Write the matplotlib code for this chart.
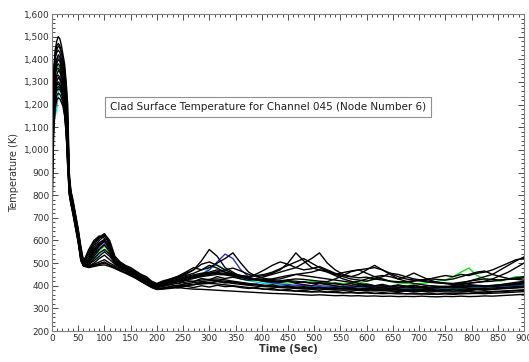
"""Clad surface temperature traces for channel 045, node 6."""

import matplotlib
matplotlib.use("Agg")
import matplotlib.pyplot as plt
from matplotlib.ticker import FuncFormatter, MultipleLocator

# shared time grid (s): dense during the blowdown peak, coarser later
time_s = [0, 3, 6, 9, 12, 15, 18, 21, 24, 27, 30, 33, 36, 40, 45, 50, 55, 60,
          70, 80, 90, 100, 110, 120, 130, 140, 150, 160, 170, 180, 190, 200,
          210, 225, 240, 255, 270, 285, 300, 315, 330, 345, 360, 375, 390, 405,
          420, 435, 450, 465, 480, 495, 510, 525, 540, 555, 570, 585, 600, 615,
          630, 645, 660, 675, 690, 705, 720, 735, 750, 765, 780, 795, 810, 825,
          840, 855, 870, 885, 900]

# black traces (K)
black_runs = [
    [1100, 1350, 1440, 1480, 1500, 1490, 1460, 1420, 1380, 1300, 1200, 900, 820, 780, 715, 650, 575, 510,
     540, 590, 615, 630, 600, 530, 505, 490, 480, 465, 450, 440, 420, 410,
     420, 430, 440, 455, 470, 510, 560, 530, 480, 460, 440, 430, 425, 430, 420, 415, 425, 410, 405, 400,
     410, 405, 400, 395, 392, 398, 395, 390, 392, 388, 390, 395, 392, 390, 388, 392, 395, 398, 400, 405,
     402, 400, 398, 402, 405, 410, 412],
    [1000, 1300, 1400, 1440, 1460, 1450, 1430, 1390, 1340, 1260, 1120, 860, 805, 765, 700, 635, 555, 505,
     560, 600, 620, 610, 560, 510, 500, 485, 470, 460, 445, 430, 415, 405,
     415, 425, 435, 445, 455, 470, 480, 500, 520, 545, 500, 460, 440, 445, 455, 470, 500, 545, 510, 480,
     470, 460, 445, 430, 420, 410, 405, 400, 398, 395, 400, 398, 395, 392, 390, 395, 392, 398, 395, 400,
     398, 396, 400, 405, 410, 415, 420],
    [950, 1250, 1360, 1400, 1420, 1410, 1380, 1350, 1300, 1220, 1050, 840, 795, 750, 690, 625, 540, 500,
     520, 570, 600, 620, 590, 520, 495, 482, 468, 455, 440, 428, 412, 402,
     410, 420, 430, 440, 448, 455, 460, 470, 460, 450, 440, 435, 430, 440, 450, 460, 470, 480, 500, 520,
     545, 500, 470, 450, 440, 450, 470, 490, 470, 450, 430, 420, 410, 405, 400, 398, 395, 400, 405, 410,
     415, 420, 430, 445, 460, 480, 500],
    [900, 1200, 1320, 1380, 1400, 1390, 1360, 1320, 1270, 1180, 1000, 830, 790, 745, 680, 615, 535, 498,
     510, 550, 580, 600, 570, 510, 492, 478, 465, 452, 438, 425, 410, 400,
     405, 415, 425, 432, 440, 445, 450, 455, 450, 445, 440, 432, 428, 425, 430, 438, 445, 450, 445, 440,
     435, 430, 425, 420, 415, 420, 430, 440, 445, 440, 430, 440, 456, 440, 425, 415, 410, 405, 410, 420,
     430, 440, 450, 470, 490, 510, 527],
    [1050, 1280, 1350, 1370, 1380, 1370, 1345, 1300, 1250, 1170, 1080, 870, 805, 760, 695, 630, 550, 502,
     500, 530, 560, 580, 550, 505, 488, 475, 462, 450, 436, 422, 408, 398,
     402, 410, 418, 425, 432, 440, 445, 450, 448, 442, 436, 430, 425, 420, 416, 418, 422, 420, 415, 412,
     410, 412, 408, 405, 402, 404, 400, 398, 400, 396, 394, 396, 393, 395, 392, 394, 396, 394, 392, 395,
     398, 396, 398, 400, 403, 405, 408],
    [800, 1150, 1280, 1330, 1350, 1345, 1320, 1280, 1220, 1130, 980, 820, 780, 735, 672, 608, 528, 495,
     495, 510, 530, 550, 530, 500, 485, 472, 458, 446, 432, 418, 404, 394,
     398, 405, 410, 416, 420, 425, 428, 430, 426, 420, 415, 410, 405, 402, 398, 396, 394, 392, 390, 388,
     390, 388, 385, 386, 384, 382, 384, 382, 380, 382, 380, 378, 380, 382, 380, 378, 380, 382, 380, 383,
     385, 383, 385, 388, 390, 392, 395],
    [750, 1100, 1250, 1300, 1320, 1310, 1290, 1250, 1190, 1100, 950, 815, 775, 728, 665, 600, 520, 492,
     488, 495, 505, 515, 500, 488, 476, 464, 450, 438, 424, 410, 396, 386,
     388, 390, 392, 388, 385, 384, 382, 380, 378, 376, 374, 372, 370, 368, 366, 365, 364, 362, 360, 358,
     360, 358, 356, 357, 355, 356, 354, 355, 353, 354, 352, 353, 352, 354, 352, 351, 353, 352, 354, 352,
     353, 355, 354, 356, 358, 360, 362],
    [850, 1180, 1260, 1290, 1300, 1290, 1270, 1240, 1180, 1090, 930, 805, 768, 722, 660, 598, 518, 490,
     485, 490, 498, 505, 492, 482, 470, 458, 446, 434, 420, 406, 393, 384,
     386, 392, 398, 402, 405, 408, 410, 408, 404, 400, 396, 392, 388, 385, 382, 380, 378, 376, 374, 372,
     373, 371, 370, 368, 369, 367, 368, 366, 365, 366, 364, 365, 363, 364, 362, 363, 364, 362, 364, 365,
     366, 365, 367, 368, 370, 372, 374],
    [1150, 1220, 1250, 1270, 1280, 1275, 1260, 1230, 1190, 1120, 1000, 850, 790, 745, 685, 620, 540, 498,
     520, 560, 590, 605, 575, 515, 496, 480, 467, 453, 440, 427, 413, 403,
     412, 425, 438, 450, 470, 495, 505, 490, 470, 455, 445, 440, 445, 450, 460, 475, 490, 505, 520, 500,
     480, 465, 450, 440, 430, 425, 420, 430, 440, 455, 450, 440, 430, 425, 420, 415, 412, 410, 415, 420,
     425, 430, 428, 425, 430, 435, 440],
    [700, 1050, 1200, 1240, 1250, 1245, 1230, 1205, 1160, 1080, 920, 800, 760, 715, 655, 592, 512, 488,
     480, 485, 490, 492, 485, 476, 465, 455, 444, 432, 418, 405, 392, 383,
     385, 388, 394, 400, 405, 410, 414, 418, 415, 410, 406, 402, 398, 396, 394, 392, 390, 388, 386, 384,
     385, 383, 382, 380, 381, 379, 378, 377, 378, 376, 375, 376, 374, 375, 373, 374, 373, 372, 373, 374,
     372, 373, 375, 376, 378, 380, 382],
    [1050, 1320, 1410, 1430, 1440, 1430, 1400, 1370, 1320, 1240, 1100, 880, 810, 768, 705, 640, 560, 505,
     530, 580, 610, 625, 580, 515, 498, 484, 470, 457, 443, 430, 414, 404,
     408, 418, 428, 436, 444, 450, 456, 462, 470, 478, 465, 450, 440, 432, 428, 430, 440, 450, 455, 460,
     470, 465, 450, 458, 465, 470, 475, 480, 470, 455, 440, 430, 425, 420, 415, 412, 410, 408, 410, 412,
     415, 418, 420, 425, 428, 430, 435],
    [1000, 1100, 1180, 1220, 1230, 1225, 1210, 1190, 1150, 1070, 940, 810, 765, 718, 652, 590, 510, 486,
     482, 488, 494, 500, 490, 480, 468, 458, 446, 436, 422, 408, 395, 386,
     388, 395, 402, 408, 414, 418, 422, 424, 420, 416, 412, 408, 404, 400, 398, 396, 395, 393, 392, 390,
     392, 390, 388, 390, 388, 386, 388, 386, 385, 387, 385, 384, 386, 384, 383, 385, 384, 386, 385, 387,
     389, 388, 390, 392, 394, 396, 398],
    [1200, 1300, 1340, 1355, 1360, 1350, 1320, 1290, 1240, 1150, 1020, 845, 792, 750, 688, 622, 538, 497,
     505, 540, 575, 595, 565, 508, 490, 476, 463, 450, 437, 424, 410, 400,
     404, 412, 420, 428, 436, 444, 452, 458, 454, 448, 440, 434, 428, 424, 420, 422, 426, 430, 428, 424,
     420, 418, 430, 445, 462, 470, 455, 440, 430, 420, 415, 418, 422, 426, 430, 428, 425, 430, 440, 450,
     460, 465, 450, 440, 432, 428, 425],
    [1100, 1200, 1260, 1285, 1290, 1285, 1270, 1240, 1200, 1130, 1020, 860, 800, 755, 690, 625, 545, 500,
     490, 520, 545, 560, 540, 500, 484, 470, 458, 446, 432, 418, 402, 392,
     396, 404, 398, 410, 404, 416, 410, 420, 412, 418, 410, 404, 408, 400, 404, 396, 400, 392, 396, 390,
     394, 388, 392, 386, 390, 384, 388, 382, 386, 380, 384, 380, 382, 378, 382, 378, 380, 376, 380, 378,
     382, 380, 384, 386, 388, 390, 392],
    [950, 1220, 1300, 1325, 1330, 1320, 1300, 1270, 1230, 1160, 1040, 850, 795, 750, 686, 620, 538, 497,
     510, 555, 585, 600, 560, 508, 492, 478, 464, 452, 438, 425, 411, 401,
     406, 416, 410, 424, 418, 432, 426, 440, 432, 438, 430, 424, 428, 420, 424, 416, 420, 412, 418, 410,
     414, 406, 412, 404, 410, 402, 408, 400, 406, 398, 404, 398, 402, 396, 400, 396, 398, 394, 398, 396,
     400, 398, 402, 404, 406, 410, 414],
    [1000, 1150, 1230, 1260, 1270, 1265, 1250, 1220, 1170, 1090, 960, 820, 778, 732, 668, 604, 524, 492,
     486, 500, 520, 535, 515, 495, 480, 466, 452, 440, 426, 412, 398, 388,
     390, 396, 390, 398, 392, 400, 394, 402, 396, 398, 392, 388, 392, 384, 388, 380, 384, 376, 380, 374,
     378, 372, 376, 370, 374, 368, 372, 366, 370, 366, 370, 364, 368, 364, 368, 362, 366, 364, 368, 366,
     370, 368, 372, 374, 376, 378, 380],
    [1080, 1330, 1420, 1460, 1470, 1460, 1430, 1400, 1360, 1280, 1150, 880, 815, 770, 708, 645, 565, 508,
     550, 595, 612, 628, 585, 525, 502, 488, 474, 461, 447, 434, 418, 406,
     414, 428, 442, 460, 480, 470, 490, 478, 460, 450, 445, 440, 452, 470, 490, 505, 495, 480, 470, 475,
     485, 470, 455, 445, 440, 435, 438, 430, 425, 420, 418, 415, 420, 425, 430, 438, 445, 440, 450, 445,
     455, 460, 470, 485, 500, 515, 520],
]

green_run = [950, 1230, 1330, 1360, 1370, 1360, 1330, 1290, 1230, 1140, 1000, 830, 785, 740, 678, 615, 532, 497,
             500, 530, 555, 575, 548, 505, 488, 475, 462, 450, 436, 423, 409, 399,
             405, 415, 425, 432, 440, 448, 455, 460, 452, 445, 438, 432, 425, 420, 418, 415, 412, 414, 416, 418,
             416, 414, 412, 410, 411, 412, 420, 428, 430, 418, 412, 410, 408, 410, 415, 420, 425, 440, 460, 478,
             445, 430, 425, 420, 430, 440, 438]

blue_run = [980, 1260, 1370, 1400, 1410, 1400, 1370, 1330, 1270, 1190, 1050, 845, 795, 752, 690, 628, 545, 500,
            505, 535, 565, 585, 555, 507, 490, 477, 464, 451, 437, 424, 410, 400,
            405, 412, 420, 428, 436, 450, 470, 505, 540, 520, 470, 440, 425, 418, 412, 408, 405, 402, 400, 398,
            400, 398, 396, 398, 396, 394, 396, 394, 392, 394, 392, 390, 392, 394, 392, 390, 392, 394, 392, 394,
            396, 394, 396, 398, 400, 402, 404]

cyan_run = [900, 1120, 1150, 1180, 1250, 1300, 1290, 1260, 1200, 1120, 990, 825, 782, 738, 675, 612, 528, 494,
            495, 515, 540, 560, 540, 500, 486, 472, 460, 448, 434, 420, 406, 396,
            400, 408, 416, 424, 432, 445, 480, 492, 470, 445, 430, 422, 416, 410, 406, 402, 400, 398, 396, 394,
            396, 394, 392, 394, 392, 390, 392, 390, 388, 390, 388, 386, 388, 390, 388, 386, 388, 390, 388, 390,
            392, 390, 392, 394, 396, 398, 400]

title_text = "Clad Surface Temperature for Channel 045 (Node Number 6)"

fig = plt.figure(figsize=(5.29, 3.62), dpi=100)
ax = fig.add_axes([0.0983, 0.0856, 0.8922, 0.8757])

ax.plot(time_s, cyan_run, color="#00d8d8", lw=1.0)
ax.plot(time_s, blue_run, color="#3030c0", lw=1.0)
ax.plot(time_s, green_run, color="#10e010", lw=1.0)
for run in black_runs:
    ax.plot(time_s, run, color="black", lw=1.0)

ax.set_xlim(0, 900)
ax.set_ylim(200, 1600)
ax.xaxis.set_major_locator(MultipleLocator(50))
ax.xaxis.set_minor_locator(MultipleLocator(10))
ax.yaxis.set_major_locator(MultipleLocator(100))
ax.yaxis.set_minor_locator(MultipleLocator(20))
ax.yaxis.set_major_formatter(FuncFormatter(lambda v, _: f"{int(v):,}"))
ax.tick_params(which="both", top=True, right=True, direction="in",
               labelsize=6.5, colors="#303030", width=0.6)
ax.tick_params(which="major", length=4)
ax.tick_params(which="minor", length=2)
ax.tick_params(axis="both", which="major", pad=2)
for side in ax.spines.values():
    side.set_color("#808080")
    side.set_linewidth(0.8)

ax.set_xlabel("Time (Sec)", fontsize=7, fontweight="bold", color="#303030", labelpad=1)
ax.set_ylabel("Temperature (K)", fontsize=7, color="#303030", labelpad=3)

ax.text(0.4576, 0.7066, title_text, transform=ax.transAxes, ha="center", va="center",
        fontsize=7.5, color="#202020",
        bbox=dict(boxstyle="square,pad=0.5", facecolor="white", edgecolor="#909090", lw=0.8))

plt.savefig("out.png", dpi=100)
plt.close(fig)
